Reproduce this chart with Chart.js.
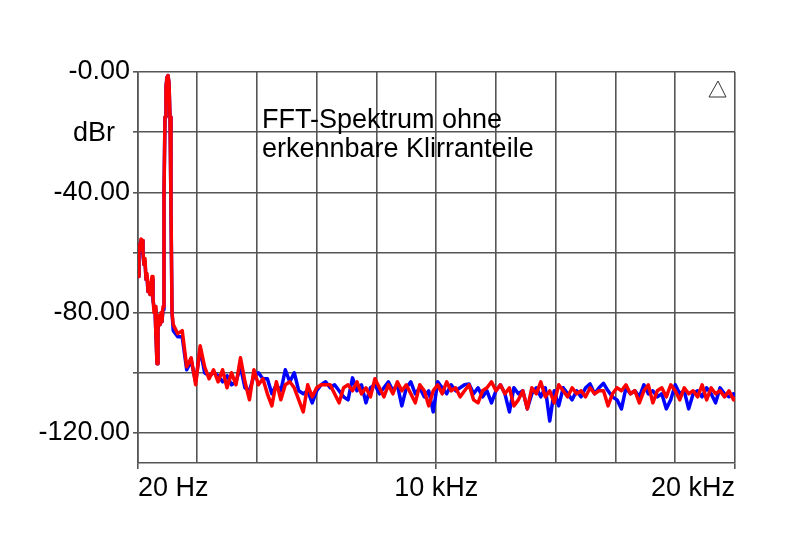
<!DOCTYPE html>
<html>
<head>
<meta charset="utf-8">
<script src="https://cdn.jsdelivr.net/npm/chart.js@4.4.1/dist/chart.umd.min.js"></script>
<style>
  html, body { margin: 0; padding: 0; background: #fff; }
  canvas { display: block; }
</style>
</head>
<body>
<canvas id="fft" width="794" height="559"></canvas>
<script>
// FFT-Spektrum, zwei Kanäle (blau / rot), 1 kHz Testton

// Frequenzen in Hz
const freqHz = [
  20, 53, 87, 120, 154, 187, 221, 254, 288, 321,
  355, 388, 422, 455, 489, 522, 556, 589, 622, 656,
  689, 723, 756, 790, 823, 857, 890, 924, 957, 990,
  1024, 1057, 1091, 1124, 1158,
  1200, 1350, 1500, 1650, 1800, 1950, 2100, 2250, 2400, 2550,
  2700, 2850, 3000, 3150, 3300, 3450, 3600, 3750, 3900, 4050,
  4200, 4350, 4500, 4650, 4800, 4950, 5100, 5250, 5400, 5550,
  5700, 5850, 6000, 6150, 6300, 6450, 6600, 6750, 6900, 7050,
  7200, 7350, 7500, 7650, 7800, 7950, 8100, 8250, 8400, 8550,
  8700, 8850, 9000, 9150, 9300, 9450, 9600, 9750, 9900, 10050,
  10200, 10350, 10500, 10650, 10800, 10950, 11100, 11250, 11400, 11550,
  11700, 11850, 12000, 12150, 12300, 12450, 12600, 12750, 12900, 13050,
  13200, 13350, 13500, 13650, 13800, 13950, 14100, 14250, 14400, 14550,
  14700, 14850, 15000, 15150, 15300, 15450, 15600, 15750, 15900, 16050,
  16200, 16350, 16500, 16650, 16800, 16950, 17100, 17250, 17400, 17550,
  17700, 17850, 18000, 18150, 18300, 18450, 18600, 18750, 18900, 19050,
  19200, 19350, 19500, 19650, 19800, 19950, 20000
];

// Kanal rot (dBr)
const redDb = [
  -68, -60, -57, -55.5, -56, -60, -64, -62, -69, -67,
  -73, -71, -74, -70, -68, -75, -80, -78, -88, -97,
  -85, -81, -84, -80, -83, -78, -40, -15, -5, -1.8,
  -1.2, -3.5, -15, -45, -80,
  -84, -87, -86, -98, -95, -104, -91, -98, -102, -99,
  -103, -99, -105, -100, -104, -95, -103, -109, -99, -104,
  -102, -107, -111, -103, -109, -104, -103, -105, -109, -113,
  -104, -108, -105, -104, -104, -104, -107, -110, -105, -104,
  -106, -103, -107, -105, -108, -102, -105, -108, -104, -107,
  -103, -106, -104, -107, -110, -104, -106, -111, -106, -104,
  -107, -103, -106, -105, -108, -106, -104, -109, -110, -106,
  -105, -103, -106, -104, -107, -105, -111, -109, -106, -112,
  -105, -107, -103, -108, -106, -110, -104, -106, -108, -105,
  -107, -106, -108, -105, -107, -106, -106, -111, -107, -105,
  -106, -104, -107, -106, -110, -106, -104, -110, -106, -105,
  -108, -104, -106, -109, -105, -107, -106, -108, -104, -109,
  -105, -107, -106, -108, -106, -109, -108
];

// Kanal blau (dBr)
const blueDb = [
  -68, -61, -57, -56, -56, -61, -64, -63, -69, -68,
  -73, -72, -74, -71, -69, -76, -78, -79, -88, -97,
  -86, -82, -84, -81, -83, -79, -40, -15, -5, -1.8,
  -1.2, -3.5, -15, -45, -80,
  -86, -88, -88, -99, -96, -103, -92, -100, -101, -100,
  -101, -103, -101, -104, -103, -98, -105, -106, -101, -100,
  -102, -102, -107, -104, -106, -99, -103, -100, -106, -107,
  -106, -110, -106, -104, -103, -105, -104, -106, -108, -109,
  -101.7, -106, -104, -110, -105, -104, -107, -105, -103, -106,
  -104, -111, -105, -103, -107, -105, -108, -106, -113, -103,
  -105, -107, -104, -106, -105, -104, -103.7, -107, -105, -108,
  -106, -110, -106, -104, -107, -113, -105, -107, -106, -112,
  -107, -105, -108, -105, -116, -106, -111, -105, -107, -109,
  -106, -108, -105, -103.7, -107, -105, -103.5, -106, -108, -109,
  -112, -105, -107, -106, -108, -104, -107, -106, -108, -107,
  -112, -109, -104, -107, -106, -112, -107, -106, -108, -105,
  -107, -110, -105, -107, -108, -107, -108
];

// Achsen
const xTicks = [20, 2000, 4000, 6000, 8000, 10000, 12000, 14000, 16000, 18000, 20000];
const xTickLabels = { 20: '20 Hz', 10000: '10 kHz', 20000: '20 kHz' };
const yTicks = [-120, -100, -80, -60, -40, -20, 0];
const yTickLabels = { 0: '-0.00', '-40': '-40.00', '-80': '-80.00', '-120': '-120.00' };
const yUnit = 'dBr';
const noteLines = ['FFT-Spektrum ohne', 'erkennbare Klirranteile'];

const FONT = '"Liberation Sans", Arial, sans-serif';
const gridColor = '#555';

const overlay = {
  id: 'overlay',
  afterDraw(chart) {
    const { ctx, chartArea: a, scales: { y } } = chart;
    ctx.save();
    ctx.fillStyle = '#000';
    ctx.font = '27px ' + FONT;
    // Einheit an der y-Achse
    ctx.textAlign = 'center';
    ctx.textBaseline = 'middle';
    ctx.fillText(yUnit, 94, y.getPixelForValue(-20) + 1);
    // Notiz
    ctx.textAlign = 'left';
    ctx.textBaseline = 'alphabetic';
    ctx.fillText(noteLines[0], a.left + 124, a.top + 56);
    ctx.fillText(noteLines[1], a.left + 124, a.top + 85);
    // kleines Dreieck oben rechts
    ctx.strokeStyle = '#333';
    ctx.lineWidth = 1;
    ctx.beginPath();
    ctx.moveTo(a.right - 17, a.top + 9);
    ctx.lineTo(a.right - 26, a.top + 25);
    ctx.lineTo(a.right - 9, a.top + 25);
    ctx.closePath();
    ctx.stroke();
    ctx.restore();
  }
};

const toPoints = arr => freqHz.map((f, i) => ({ x: f, y: arr[i] }));

new Chart(document.getElementById('fft'), {
  type: 'line',
  data: {
    datasets: [
      {
        label: 'rot',
        data: toPoints(redDb),
        borderColor: '#ff0000',
        borderWidth: 3.5,
        borderJoinStyle: 'round',
        pointRadius: 0,
        tension: 0,
        order: 0
      },
      {
        label: 'blau',
        data: toPoints(blueDb),
        borderColor: '#0000ff',
        borderWidth: 3.5,
        borderJoinStyle: 'round',
        pointRadius: 0,
        tension: 0,
        order: 1
      }
    ]
  },
  options: {
    responsive: false,
    animation: false,
    events: [],
    layout: { padding: { top: 72, right: 59, bottom: 51, left: 0 } },
    plugins: { legend: { display: false }, tooltip: { enabled: false } },
    scales: {
      x: {
        type: 'linear',
        min: 20,
        max: 20000,
        afterBuildTicks: s => { s.ticks = xTicks.map(v => ({ value: v })); },
        afterFit: s => { s.height = 45; },
        grid: {
          color: gridColor,
          lineWidth: 1.6,
          tickLength: 6,
          tickColor: c => (c.tick && xTickLabels[c.tick.value]) ? gridColor : 'rgba(0,0,0,0)'
        },
        border: { color: gridColor, width: 1.6 },
        ticks: {
          autoSkip: false,
          maxRotation: 0,
          align: 'inner',
          padding: 3,
          color: '#000',
          font: { family: FONT, size: 27 },
          callback: v => xTickLabels[v] || ''
        }
      },
      y: {
        type: 'linear',
        min: -130,
        max: 0,
        afterBuildTicks: s => { s.ticks = yTicks.map(v => ({ value: v })); },
        afterFit: s => { s.width = 138; },
        grid: { color: gridColor, lineWidth: 1.6, tickLength: 5 },
        border: { color: gridColor, width: 1.6 },
        ticks: {
          padding: 3,
          color: '#000',
          font: { family: FONT, size: 27 },
          callback: v => yTickLabels[v] || ''
        }
      }
    }
  },
  plugins: [overlay]
});
</script>
</body>
</html>
